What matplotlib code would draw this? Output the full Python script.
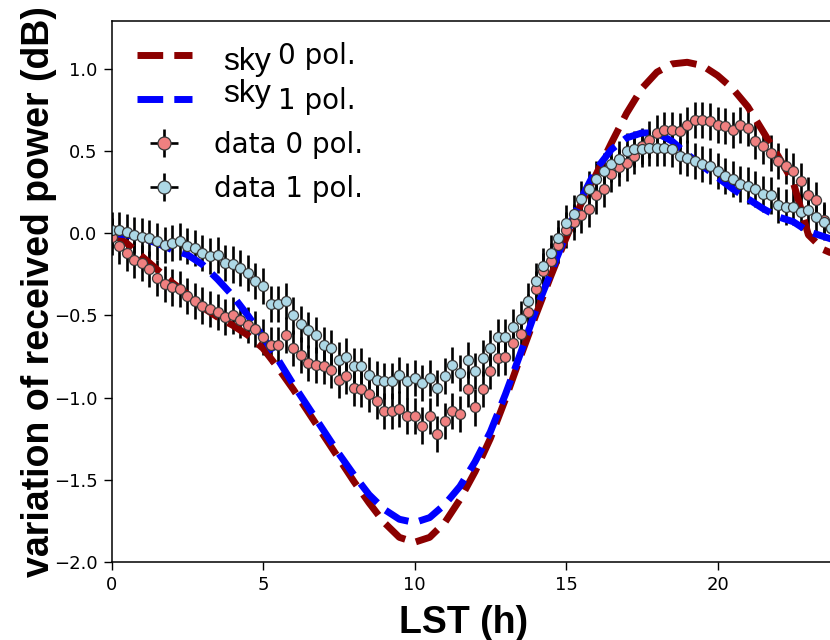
import numpy as np
import matplotlib as mpl
mpl.use("Agg")
import matplotlib.pyplot as plt
from matplotlib.transforms import Affine2D

# LST grid of the measured points (every 15 min) and of the sky model (every 30 min)
lst_data = np.arange(96) * 0.25
lst_sky = np.arange(49) * 0.5

# sky model, variation of received power (dB)
sky_pol0 = [0.00, -0.06, -0.14, -0.22, -0.30, -0.37, -0.45, -0.51, -0.56, -0.62,
            -0.70, -0.82, -0.95, -1.09, -1.23, -1.37, -1.51, -1.64, -1.76, -1.85,
            -1.88, -1.85, -1.76, -1.62, -1.45, -1.25, -1.01, -0.75, -0.50, -0.26,
            -0.03, 0.18, 0.36, 0.55, 0.73, 0.88, 0.98, 1.03, 1.04, 1.02,
            0.96, 0.88, 0.77, 0.62, 0.47, 0.31, -0.01, -0.10, -0.14]
sky_pol1 = [0.00, -0.01, -0.03, -0.06, -0.10, -0.13, -0.19, -0.28, -0.38, -0.50,
            -0.63, -0.77, -0.92, -1.06, -1.20, -1.34, -1.47, -1.59, -1.68, -1.74,
            -1.76, -1.73, -1.65, -1.54, -1.39, -1.21, -0.98, -0.73, -0.47, -0.24,
            -0.01, 0.21, 0.39, 0.51, 0.58, 0.61, 0.61, 0.56, 0.48, 0.41,
            0.34, 0.27, 0.21, 0.15, 0.10, 0.07, 0.01, -0.02, -0.05]

# measured data, variation of received power (dB)
data_pol0 = [-0.02, -0.08, -0.12, -0.16, -0.18, -0.22, -0.27, -0.31, -0.33, -0.34,
             -0.38, -0.41, -0.44, -0.46, -0.48, -0.51, -0.50, -0.53, -0.56, -0.58,
             -0.63, -0.68, -0.68, -0.62, -0.70, -0.74, -0.79, -0.80, -0.81, -0.83,
             -0.89, -0.87, -0.94, -0.95, -0.98, -1.02, -1.08, -1.08, -1.07, -1.11,
             -1.11, -1.17, -1.11, -1.22, -1.14, -1.08, -1.10, -0.95, -1.06, -0.95,
             -0.84, -0.76, -0.75, -0.67, -0.61, -0.48, -0.34, -0.23, -0.17, -0.07,
             0.02, 0.07, 0.11, 0.15, 0.23, 0.27, 0.36, 0.40, 0.43, 0.47,
             0.53, 0.57, 0.61, 0.63, 0.63, 0.62, 0.66, 0.69, 0.69, 0.68,
             0.66, 0.65, 0.63, 0.66, 0.64, 0.56, 0.53, 0.49, 0.44, 0.41,
             0.38, 0.32, 0.23, 0.20, 0.08, 0.03]
data_pol1 = [0.02, 0.02, 0.01, -0.01, -0.02, -0.03, -0.05, -0.07, -0.06, -0.05,
             -0.08, -0.09, -0.12, -0.14, -0.13, -0.18, -0.19, -0.21, -0.24, -0.29,
             -0.32, -0.43, -0.43, -0.41, -0.50, -0.55, -0.59, -0.62, -0.68, -0.70,
             -0.77, -0.75, -0.81, -0.81, -0.86, -0.89, -0.90, -0.90, -0.86, -0.90,
             -0.88, -0.91, -0.88, -0.94, -0.87, -0.80, -0.85, -0.77, -0.84, -0.76,
             -0.70, -0.63, -0.63, -0.57, -0.52, -0.41, -0.29, -0.20, -0.12, -0.03,
             0.06, 0.12, 0.21, 0.27, 0.33, 0.38, 0.42, 0.45, 0.50, 0.51,
             0.51, 0.52, 0.52, 0.52, 0.51, 0.47, 0.46, 0.44, 0.42, 0.41,
             0.38, 0.35, 0.33, 0.30, 0.29, 0.27, 0.24, 0.23, 0.17, 0.16,
             0.16, 0.13, 0.14, 0.10, 0.07, 0.03]
err_y = 0.11
err_x = 0.125

W, H = 830, 640


def main(out_file='out.png'):
    fig = plt.figure(figsize=(W / 100., H / 100.), dpi=100)
    ax = fig.add_axes([111.5 / W, 78. / H, 727.2 / W, 541.3 / H])

    eb_kw = dict(fmt='o', ms=7.2, mec='#383838', mew=0.9, ecolor='black',
                 elinewidth=1.9, capsize=0)
    ax.errorbar(lst_data, data_pol0, yerr=err_y, xerr=err_x, mfc='#F08080',
                label='data 0 pol.', **eb_kw)
    ax.errorbar(lst_data, data_pol1, yerr=err_y, xerr=err_x, mfc='#ADD8E6',
                label='data 1 pol.', **eb_kw)
    ax.plot(lst_sky, sky_pol0, '--', color='#8B0000', lw=5, label='0 pol.')
    ax.plot(lst_sky, sky_pol1, '--', color='#0000FF', lw=5, label='1 pol.')

    ax.set_xlim(0, 24)
    ax.set_ylim(-2.0, 1.293)
    ax.set_xticks([0, 5, 10, 15, 20])
    ax.set_yticks([-2.0, -1.5, -1.0, -0.5, 0.0, 0.5, 1.0])
    ax.tick_params(labelsize=13, length=5.5, width=1, pad=4.5)
    for sp in ax.spines.values():
        sp.set_linewidth(1.1)

    leg = ax.legend(loc='upper left', bbox_to_anchor=(0, 1.006), frameon=False,
                    fontsize=20, labelspacing=0.58, markerscale=1.3)
    # the sky labels sit further right, "sky" was pasted in front of them
    for t in leg.get_texts()[:2]:
        t.set_transform(t.get_transform() + Affine2D().translate(64, 0))

    fig.text(223 / W, 1 - 70 / H, 'sky', fontsize=23, family='Liberation Sans',
             va='baseline', ha='left')
    fig.text(223 / W, 1 - 102 / H, 'sky', fontsize=23, family='Liberation Sans',
             va='baseline', ha='left')

    fig.text(463.5 / W, 7 / H, 'LST (h)', fontsize=27, fontweight='bold',
             family='Liberation Sans', ha='center', va='baseline')
    fig.text(39 / W, 1 - 291.5 / H, 'variation of received power (dB)',
             fontsize=27, fontweight='bold', family='Liberation Sans',
             rotation=90, ha='center', va='center')

    fig.savefig(out_file, dpi=100)
    plt.close(fig)
    print('>>> {}'.format(out_file))


if __name__ == '__main__':
    main()
